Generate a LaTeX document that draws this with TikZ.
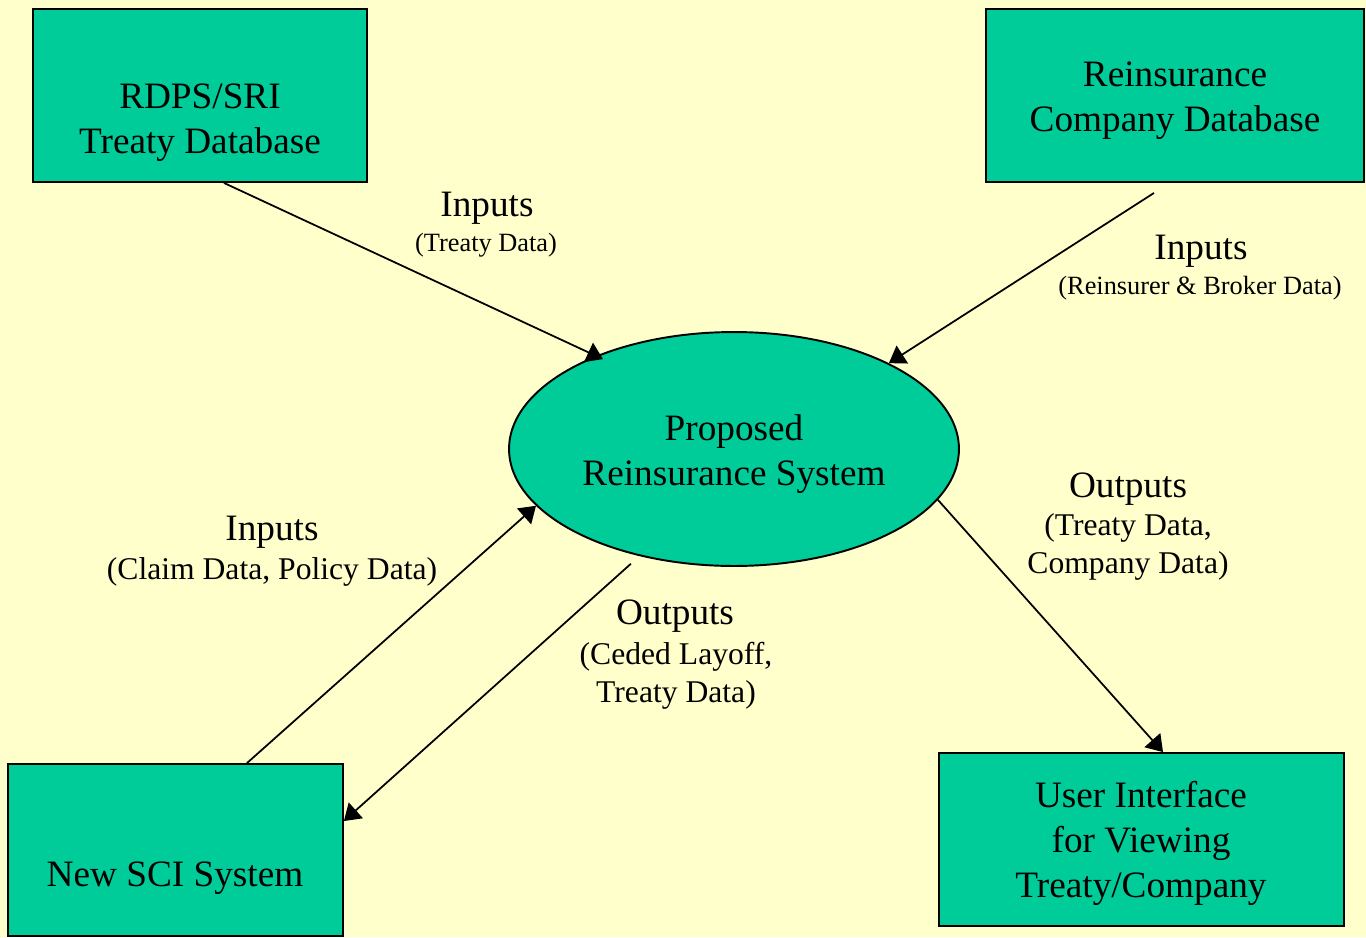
\documentclass[tikz,border=0pt]{standalone}
\usepackage{fontspec}
\setmainfont{Liberation Serif}
\usetikzlibrary{arrows.meta,calc,shapes.geometric}
\definecolor{bgyellow}{HTML}{FFFFCC}
\definecolor{boxfill}{HTML}{00CC99}
\begin{document}
\begin{tikzpicture}[x=0.02cm,y=-0.02cm,
  boxnode/.style={draw=black, line width=1.1pt, fill=boxfill, rectangle, inner sep=0pt},
  bigtext/.style={font=\fontsize{21.2}{25.4}\selectfont, align=center, inner sep=0pt, anchor=base},
  midtext/.style={font=\fontsize{18}{21.2}\selectfont, align=center, inner sep=0pt, anchor=base},
  smalltext/.style={font=\fontsize{15}{18}\selectfont, align=center, inner sep=0pt, anchor=base},
  conn/.style={line width=1pt, -{Triangle[length=0.32cm,width=0.42cm]}}]
\useasboundingbox (0,0) rectangle (1366,937);
\fill[bgyellow] (0,0) rectangle (1366,937);
% boxes
\node[boxnode, minimum width=6.68cm, minimum height=3.46cm] (rdps) at (200,95.5) {};
\node[boxnode, minimum width=7.56cm, minimum height=3.46cm] (rcd) at (1175,95.5) {};
\node[boxnode, minimum width=6.7cm, minimum height=3.44cm] (sci) at (175.5,850) {};
\node[boxnode, minimum width=8.1cm, minimum height=3.46cm] (ui) at (1141.5,839.5) {};
\node[draw=black, line width=1.1pt, fill=boxfill, ellipse, inner sep=0pt,
      minimum width=9cm, minimum height=4.68cm] (ell) at (734,449) {};
% box texts (anchor = baseline of last line)
\node[bigtext] (rdpst) at (200,153) {RDPS/SRI\\Treaty Database};
\node[bigtext] (rcdt) at (1175,131) {Reinsurance\\Company Database};
\node[bigtext] (scit) at (175,886) {New SCI System};
\node[bigtext] (uit) at (1141,897) {User Interface\\for Viewing\\Treaty/Company};
\node[bigtext] (ellt) at (734,485) {Proposed\\Reinsurance System};
% connector labels
\node[bigtext] (in1) at (487,216) {Inputs};
\node[smalltext] (in1s) at (486,251) {(Treaty Data)};
\node[bigtext] (in2) at (1201,259) {Inputs};
\node[smalltext] (in2s) at (1200,294) {(Reinsurer \& Broker Data)};
\node[bigtext] (in3) at (272,540) {Inputs};
\node[midtext] (in3s) at (272,579) {(Claim Data, Policy Data)};
\node[bigtext] (out1) at (675,624) {Outputs};
\node[midtext] (out1s) at (676,702) {(Ceded Layoff,\\Treaty Data)};
\node[bigtext] (out2) at (1128,497) {Outputs};
\node[midtext] (out2s) at (1128,573) {(Treaty Data,\\Company Data)};
% connectors
\draw[conn, shorten >=-0.16cm] ([xshift=0.48cm]rdps.south) -- (ell.146);
\draw[conn] ([xshift=-0.42cm,yshift=-0.2cm]rcd.south) -- (ell.29);
\draw[conn] ([xshift=1.43cm]sci.north) -- (ell.196);
\draw[conn] ($(ell.228)+(-7,8)$) -- ([yshift=0.58cm]sci.east);
\draw[conn] (ell.346) -- ([xshift=0.43cm]ui.north);
\end{tikzpicture}
\end{document}
